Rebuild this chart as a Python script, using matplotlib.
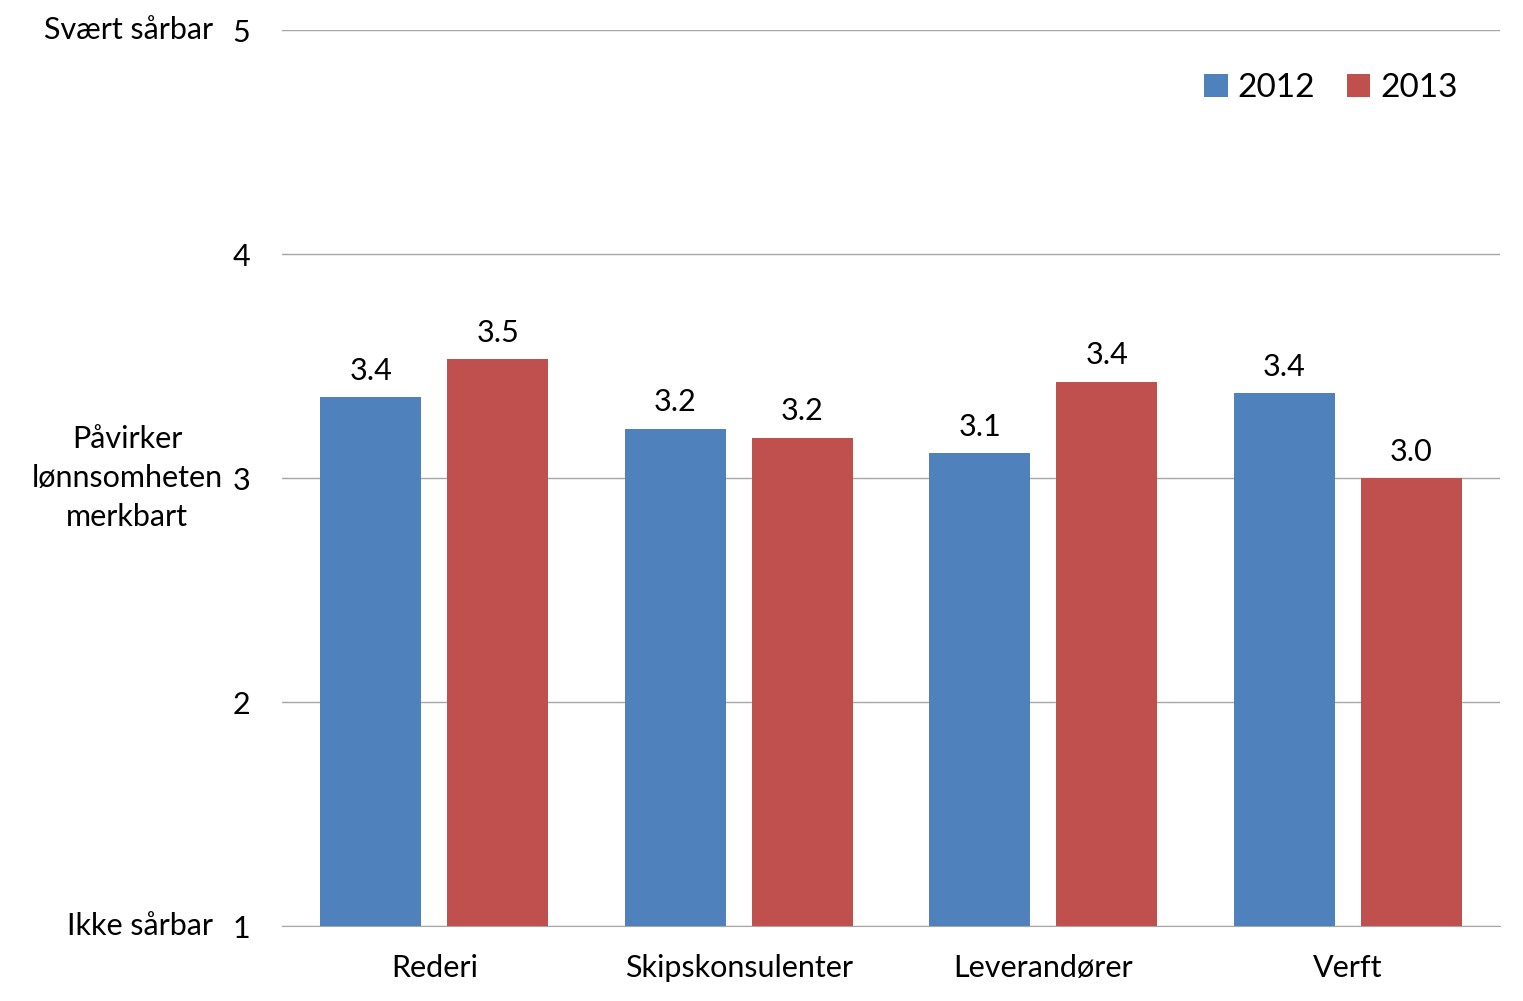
import matplotlib
matplotlib.use("Agg")
import matplotlib.pyplot as plt
import numpy as np

categories = ["Rederi", "Skipskonsulenter", "Leverandører", "Verft"]
series_names = ["2012", "2013"]
values_2012 = [3.36, 3.22, 3.11, 3.38]
values_2013 = [3.53, 3.18, 3.43, 3.00]
yticks = [1, 2, 3, 4, 5]
side_labels = {5: "Svært sårbar", 3: "Påvirker\nlønnsomheten\nmerkbart", 1: "Ikke sårbar"}

colors = ["#4F81BD", "#C0504D"]
plt.rcParams['font.family'] = ['Lato', 'DejaVu Sans']
FS = 22

fig = plt.figure(figsize=(15.23, 10.01), dpi=100)
ax = fig.add_axes([282/1523, 1-926/1001, (1500-282)/1523, (926-30)/1001])

x = np.arange(len(categories))
w = 0.333
off = 0.2085
for vals, c, name, sgn in [(values_2012, colors[0], series_names[0], -1),
                           (values_2013, colors[1], series_names[1], 1)]:
    ax.bar(x + sgn*off, np.array(vals) - 1, width=w, bottom=1, color=c, label=name, zorder=3)
    for xi, v in zip(x + sgn*off, vals):
        ax.text(xi, v + 0.055, f"{v:.1f}", ha="center", va="bottom", fontsize=FS)

ax.set_xlim(-0.5, 3.5)
ax.set_ylim(1, 5)
ax.set_yticks(yticks)
ax.set_yticklabels([str(t) for t in yticks], fontsize=FS)
ax.set_xticks(x)
ax.set_xticklabels(categories, fontsize=FS)
ax.tick_params(length=0)
ax.tick_params(axis='y', pad=23)
ax.tick_params(axis='x', pad=20)
ax.grid(axis='y', color='#A6A6A6', linewidth=1, zorder=0)
for s in ['top', 'right', 'left']:
    ax.spines[s].set_visible(False)
ax.spines['bottom'].set_color('#A6A6A6')

for yv, lab in side_labels.items():
    if yv == 3:
        ax.text(-0.5 - 155/304.5, yv, lab, ha='center', va='center', fontsize=FS,
                linespacing=1.5)
    else:
        ax.text(-0.5 - 69/304.5, yv, lab, ha='right', va='center', fontsize=FS)

ax.legend(loc='upper right', bbox_to_anchor=(0.99, 0.985), frameon=False, fontsize=24,
          handlelength=0.7, handleheight=0.7, handletextpad=0.3, ncol=2, columnspacing=0.95)

fig.savefig("out.png", dpi=100)
